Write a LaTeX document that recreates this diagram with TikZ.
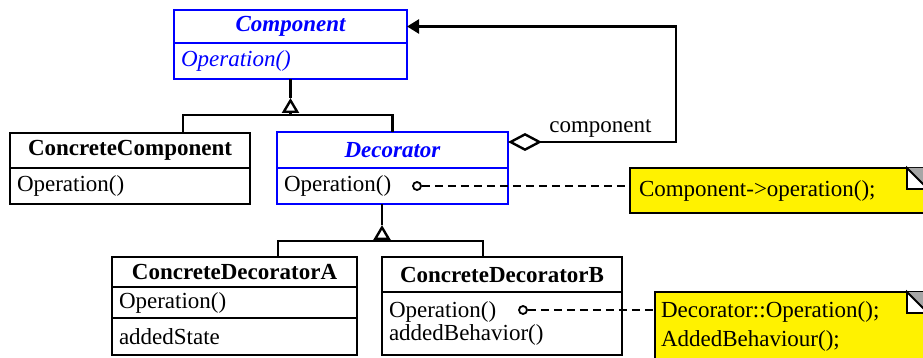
\documentclass[tikz,border=0pt]{standalone}
\usepackage{fontspec}
\setmainfont{Liberation Serif}
\usepackage{tikz}
\usetikzlibrary{arrows.meta}
\usepackage{xcolor}
\newcommand\umlfont{\fontsize{23}{27}\selectfont}

\begin{document}
\begin{tikzpicture}[x=1pt,y=-1pt,line width=2.4pt,
  every node/.style={font=\umlfont},
  hdr/.style={rectangle,draw,inner sep=0pt,outer sep=0pt,font=\umlfont\bfseries},
  cell/.style={rectangle,draw,inner xsep=7pt,inner ysep=0pt,outer sep=0pt,align=left},
  abst/.style={draw=blue,text=blue,font=\umlfont\bfseries\itshape},
  umlnote/.style={rectangle,draw,fill=yellow,inner xsep=9pt,inner ysep=0pt,outer sep=0pt,align=left,anchor=north west},
  opdot/.style={circle,draw,inner sep=0pt,minimum size=8pt,line width=1.8pt},
  dashln/.style={dash pattern=on 8pt off 5pt},
  inh/.style={-{Triangle[open,length=15pt,width=17pt]}}]
\path [use as bounding box] (0,0) rectangle (923,358);
\clip (0,0) rectangle (923,358);

\node [hdr,abst,anchor=north west,minimum width=233pt,minimum height=33pt] (comp) at (174,10) {Component};
\node [cell,abst,font=\umlfont\itshape,text width=219pt,minimum height=36pt,below=0pt,at=(comp.south)] (compop) {Operation()};

\node [hdr,anchor=north west,minimum width=240pt,minimum height=35pt] (ccomp) at (10,133) {ConcreteComponent};
\node [cell,text width=226pt,minimum height=36pt,below=0pt,at=(ccomp.south)] (ccompop) {Operation()};

\node [hdr,abst,anchor=north west,minimum width=231pt,minimum height=36pt] (dec) at (277,132) {Decorator};
\node [cell,draw=blue,text width=217pt,minimum height=36pt,below=0pt,at=(dec.south)] (decop) {Operation()};

\node [hdr,anchor=north west,minimum width=245pt,minimum height=30pt] (cda) at (112,257) {ConcreteDecoratorA};
\node [cell,text width=231pt,minimum height=31pt,below=0pt,at=(cda.south)] (cdaop) {Operation()};
\node [cell,text width=231pt,minimum height=37pt,below=0pt,at=(cdaop.south)] (cdaattr) {addedState};

\node [hdr,anchor=north west,minimum width=240pt,minimum height=35pt] (cdb) at (382,257) {ConcreteDecoratorB};
\node [cell,text width=226pt,minimum height=63pt,below=0pt,at=(cdb.south),font=\fontsize{23}{23}\selectfont] (cdbop) {Operation()\\addedBehavior()};

\node [umlnote,minimum width=298pt,minimum height=45pt,text width=280pt] (note1) at (630,168) {Component->operation();};
\node [umlnote,inner xsep=6pt,minimum width=273pt,minimum height=69pt,text width=261pt,font=\fontsize{23}{29}\selectfont] (note2) at (655,292) {Decorator::Operation();\\AddedBehaviour();};

% folded corners
\fill [gray!70] ([xshift=-21pt]note1.north east) -- (note1.north east) -- ([yshift=-21pt]note1.north east) -- cycle;
\draw [fill=white,line width=1.8pt] ([xshift=-21pt]note1.north east) -- ([xshift=-21pt,yshift=-21pt]note1.north east) -- ([yshift=-21pt]note1.north east) -- cycle;
\fill [gray!70] ([xshift=-21pt]note2.north east) -- (note2.north east) -- ([yshift=-21pt]note2.north east) -- cycle;
\draw [fill=white,line width=1.8pt] ([xshift=-21pt]note2.north east) -- ([xshift=-21pt,yshift=-21pt]note2.north east) -- ([yshift=-21pt]note2.north east) -- cycle;

\node [opdot] (dot1) at (417,186) {};
\node [opdot] (dot2) at (523,310) {};
\draw [dashln] (dot1) -- (dot1 -| note1.west);
\draw [dashln] (dot2) -- (dot2 -| note2.west);

% inheritance
\coordinate (j1) at (comp.south |- 0,115);
\draw ([xshift=53pt]ccomp.north) |- (j1) -| (dec.north);
\draw [inh] (j1) -- ++(0,-17);
\draw ([yshift=17pt]j1) -- (compop.south);

\coordinate (j2) at (382,241);
\draw ([xshift=43.5pt]cda.north) |- (j2) -| ([xshift=-19pt]cdb.north);
\draw [inh] (j2) -- ++(0,-16);
\draw ([yshift=16pt]j2) -- (j2 |- decop.south);

% aggregation
\draw [{Diamond[open,length=34pt,width=18pt]}-{Triangle[length=12pt,width=14pt]}] ([yshift=8pt]dec.east) -- node [above,pos=0.55] (rolelbl) {component} ++(168,0) |- (comp.east);
\end{tikzpicture}
\end{document}
